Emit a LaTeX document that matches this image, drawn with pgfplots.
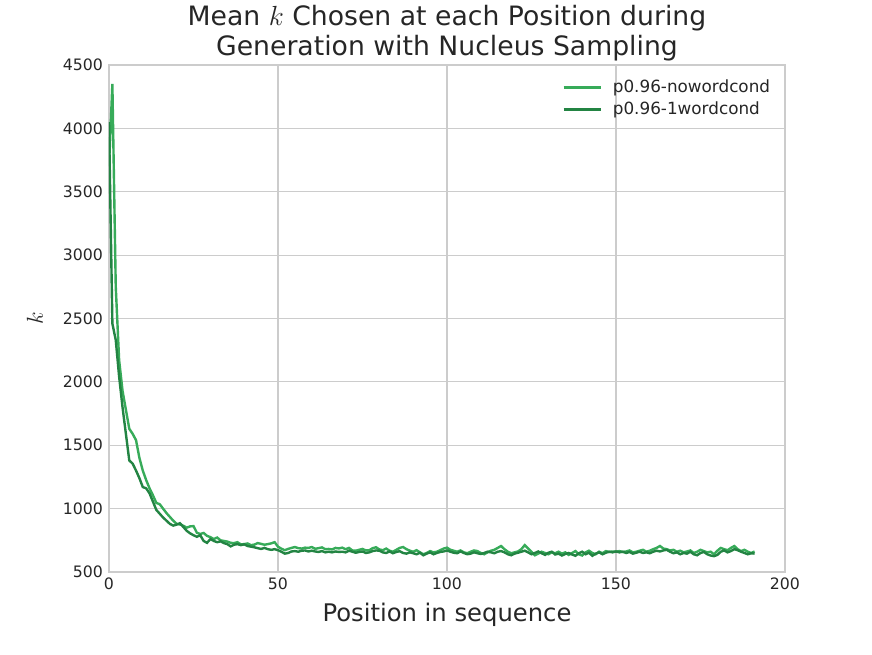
\documentclass[border=0pt]{standalone}
\usepackage{pgfplots}
\usepackage{pgfplotstable}
\pgfplotsset{compat=1.18}
\usepackage{fontspec}
\setmainfont{DejaVu Sans}
\definecolor{lightg}{RGB}{55,171,89}
\definecolor{darkg}{RGB}{35,132,67}
\definecolor{gridc}{RGB}{204,204,204}
\pgfplotstableread{
x a b
0 3700 4050
1 4350 2460
2 2750 2330
3 2170 2040
4 1930 1800
5 1780 1590
6 1630 1380
7 1590 1355
8 1540 1300
9 1400 1240
10 1300 1170
11 1225 1160
12 1160 1120
13 1105 1055
14 1045 990
15 1035 960
16 1000 930
17 965 905
18 935 880
19 905 866
20 880 874
21 875 885
22 865 855
23 850 825
24 860 805
25 862 790
26 810 778
27 800 790
28 808 745
29 785 730
30 775 760
31 760 745
32 772 735
33 750 742
34 745 728
35 740 720
36 730 702
37 728 715
38 735 720
39 718 712
40 720 718
41 725 705
42 712 700
43 716 695
44 728 688
45 722 682
46 715 690
47 720 680
48 726 675
49 735 680
50 700 672
51 684 660
52 672 645
53 682 650
54 690 662
55 697 665
56 688 660
57 685 668
58 692 670
59 690 662
60 697 668
61 683 662
62 688 658
63 694 665
64 680 655
65 682 660
66 678 655
67 690 662
68 686 658
69 692 660
70 680 655
71 690 668
72 670 660
73 668 652
74 675 658
75 682 662
76 670 650
77 672 655
78 688 665
79 695 670
80 678 668
81 672 655
82 685 650
83 668 662
84 660 648
85 675 658
86 690 664
87 697 650
88 680 645
89 668 655
90 660 648
91 672 640
92 655 652
93 640 632
94 650 645
95 665 655
96 655 640
97 660 650
98 672 658
99 685 662
100 692 670
101 675 660
102 668 652
103 660 648
104 670 662
105 655 650
106 648 640
107 660 645
108 670 655
109 665 648
110 650 642
111 640 650
112 655 660
113 668 655
114 675 648
115 690 660
116 705 665
117 680 655
118 660 640
119 648 632
120 655 645
121 662 652
122 680 660
123 712 668
124 685 655
125 660 640
126 632 650
127 645 662
128 660 648
129 650 635
130 640 652
131 655 660
132 648 638
133 660 645
134 645 630
135 655 642
136 635 650
137 650 638
138 665 628
139 640 648
140 630 660
141 655 640
142 668 652
143 650 628
144 640 645
145 660 655
146 648 640
147 665 652
148 658 660
149 662 655
150 660 662
151 665 655
152 658 660
153 662 650
154 670 658
155 655 645
156 660 652
157 668 660
158 675 650
159 660 655
160 668 648
161 680 660
162 690 668
163 705 662
164 685 670
165 680 675
166 670 660
167 675 648
168 660 655
169 668 640
170 655 650
171 662 645
172 670 660
173 650 640
174 660 632
175 675 650
176 665 658
177 655 640
178 660 630
179 640 625
180 668 635
181 690 660
182 680 670
183 672 655
184 690 665
185 705 680
186 680 672
187 665 660
188 675 650
189 660 640
190 650 648
191 662 645
}\kdata
\begin{document}
\begin{tikzpicture}
\begin{axis}[
  at={(0,0)}, anchor=south west,
  width=507pt, height=380.25pt, scale only axis,
  xmin=0, xmax=200, ymin=500, ymax=4500,
  xtick={0,50,100,150,200},
  ytick={500,1000,1500,2000,2500,3000,3500,4000,4500},
  major tick length=0pt,
  grid=major,
  grid style={gridc, line width=0.9pt},
  axis line style={gridc, line width=0.9pt},
  tick label style={font=\fontsize{11.8}{14}\selectfont, text=black!85},
  /pgf/number format/assume math mode=true,
  /pgf/number format/set thousands separator={},
  yticklabel style={xshift=-1pt},
  xticklabel style={yshift=-1pt},
  title={Mean $k$ Chosen at each Position during\\Generation with Nucleus Sampling},
  title style={align=center, font=\fontsize{20}{22.5}\selectfont, text=black!85, at={(0.5,1)}, anchor=south, inner sep=2pt, yshift=-5pt},
  xlabel={Position in sequence},
  every axis x label/.style={at={(axis description cs:0.5,-0.0842)}, anchor=center, font=\fontsize{18.2}{21}\selectfont, text=black!85},
  ylabel={$k$},
  every axis y label/.style={at={(axis description cs:-0.1095,0.5)}, anchor=center, rotate=90, font=\fontsize{18}{21}\selectfont, text=black!85},
  legend style={draw=none, fill=none, at={(1,1)}, anchor=north east, xshift=-6pt, yshift=-7pt, font=\fontsize{12.6}{15}\selectfont, text=black!85, row sep=1.5pt, legend cell align=left},
  legend image code/.code={\draw[#1] (0pt,0pt) -- (28pt,0pt); \path (34pt,0pt);},
]
\addplot[lightg, line width=1.8pt] table[x=x, y=a] {\kdata};
\addlegendentry{p0.96-nowordcond}
\addplot[darkg, line width=1.8pt] table[x=x, y=b] {\kdata};
\addlegendentry{p0.96-1wordcond}
\end{axis}
\pgfresetboundingbox
\useasboundingbox (-81.75pt,-61.5pt) rectangle (572.25pt,429pt);
\end{tikzpicture}
\end{document}
